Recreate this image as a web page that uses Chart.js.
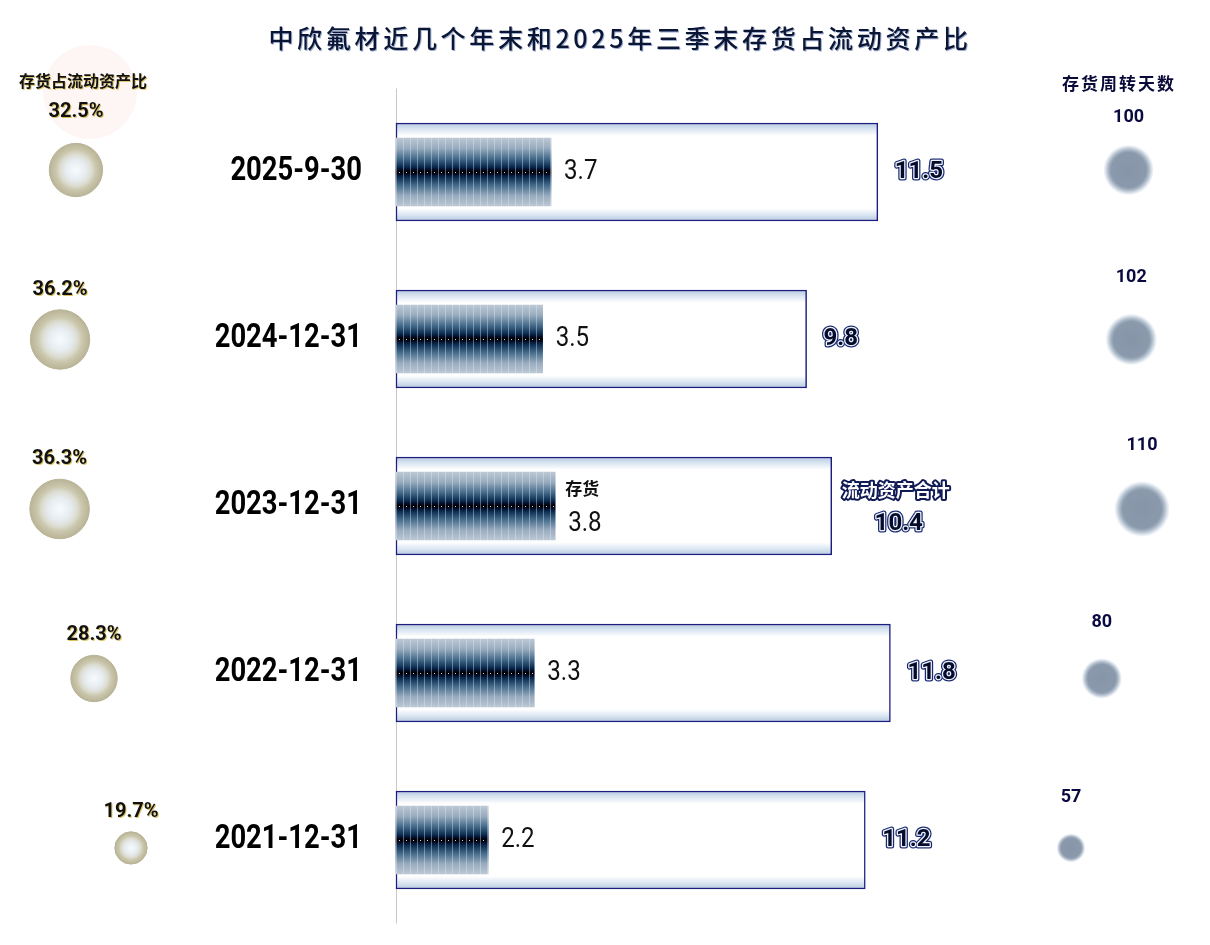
<!DOCTYPE html>
<html><head><meta charset="utf-8">
<script src="https://cdn.jsdelivr.net/npm/chart.js@4.4.1/dist/chart.umd.min.js"></script>
<style>html,body{margin:0;padding:0;background:#fff;} #wrap{position:relative;width:1210px;height:945px;}</style>
</head><body><div id="wrap"><canvas id="c" width="1210" height="945"></canvas></div>
<script>
// ---- data ----
const categories = ['2025-9-30','2024-12-31','2023-12-31','2022-12-31','2021-12-31'];
const inventory = [3.7,3.5,3.8,3.3,2.2];            // 存货
const currentAssets = [11.5,9.8,10.4,11.8,11.2];    // 流动资产合计
const inventoryRatio = [32.5,36.2,36.3,28.3,19.7];  // 存货占流动资产比 (%)
const turnoverDays = [100,102,110,80,57];           // 存货周转天数
const titleText = '中欣氟材近几个年末和2025年三季末存货占流动资产比';
const ratioHeader = '存货占流动资产比';
const daysHeader = '存货周转天数';
const inventoryName = '存货';
const assetsName = '流动资产合计';
const legendRow = 2;

const NUM = "Roboto,'Liberation Sans',sans-serif";
const CJK = "'Noto Sans CJK SC','Noto Sans',sans-serif";

const fin = (...a) => a.every(Number.isFinite);

function invFill(c){
  const chart = c.chart, i = c.dataIndex;
  if (i === undefined || !chart.scales.y || !chart.scales.x) return '#0a2a50';
  const h = 68, yc = chart.scales.y.getPixelForValue(i);
  const x0 = chart.scales.x.getPixelForValue(0);
  if (!fin(yc, x0)) return '#0a2a50';
  const top = Math.round(yc - h/2);
  const tile = document.createElement('canvas'); tile.width = 7; tile.height = h;
  const t = tile.getContext('2d');
  const g = t.createLinearGradient(0,0,0,h);
  g.addColorStop(0,'#bcc8d4'); g.addColorStop(0.15,'#98abbe'); g.addColorStop(0.3,'#466c8b');
  g.addColorStop(0.42,'#0b2d52'); g.addColorStop(0.47,'#020a22'); g.addColorStop(0.5,'#000000');
  g.addColorStop(0.53,'#020a22'); g.addColorStop(0.58,'#0b2d52'); g.addColorStop(0.7,'#466c8b');
  g.addColorStop(0.85,'#98abbe'); g.addColorStop(1,'#bcc8d4');
  t.fillStyle = g; t.fillRect(0,0,7,h);
  t.fillStyle = 'rgba(225,235,245,0.4)'; t.fillRect(0,0,1,h);
  t.fillStyle = '#c9d6e2'; t.fillRect(3, Math.floor(h/2), 1, 1);
  const p = chart.ctx.createPattern(tile,'repeat');
  p.setTransform(new DOMMatrix([1,0,0,1,x0,top]));
  return p;
}
function totFill(c){
  const chart = c.chart, i = c.dataIndex;
  if (i === undefined || !chart.scales.y) return '#fff';
  const h = 98, yc = chart.scales.y.getPixelForValue(i);
  if (!fin(yc)) return '#fff';
  const top = yc - h/2;
  const g = chart.ctx.createLinearGradient(0,top,0,top+h);
  g.addColorStop(0,'#b6c9de'); g.addColorStop(0.06,'#d9e5f1'); g.addColorStop(0.13,'#ffffff');
  g.addColorStop(0.87,'#ffffff'); g.addColorStop(0.94,'#d9e5f1'); g.addColorStop(1,'#b6c9de');
  return g;
}
function leftFill(c){
  const chart = c.chart, i = c.dataIndex;
  if (i === undefined || !chart.scales.xl || !chart.scales.yb) return '#ddd';
  const x = chart.scales.xl.getPixelForValue(inventoryRatio[i]);
  const y = chart.scales.yb.getPixelForValue(i);
  const r = inventoryRatio[i]*0.82;
  if (!fin(x, y, r)) return '#ddd';
  const g = chart.ctx.createRadialGradient(x,y,0,x,y,r);
  g.addColorStop(0,'#f7fbfe'); g.addColorStop(0.38,'#e6ecf0'); g.addColorStop(0.6,'#dcdcd0');
  g.addColorStop(0.75,'#cbc7ad'); g.addColorStop(1,'#b9b496');
  return g;
}
function rightFill(c){
  const chart = c.chart, i = c.dataIndex;
  if (i === undefined || !chart.scales.xr || !chart.scales.yb) return '#8898aa';
  const x = chart.scales.xr.getPixelForValue(turnoverDays[i]);
  const y = chart.scales.yb.getPixelForValue(i);
  const r = turnoverDays[i]*0.25;
  if (!fin(x, y, r)) return '#8898aa';
  const g = chart.ctx.createRadialGradient(x,y,0,x,y,r);
  g.addColorStop(0,'#8696a8'); g.addColorStop(0.7,'#8a9aac'); g.addColorStop(0.8,'#a6b4c3');
  g.addColorStop(0.9,'#d0d9e3'); g.addColorStop(1,'rgba(236,241,247,0.5)');
  return g;
}

function outlined(ctx, text, x, y, fill, inner, outer, w){
  ctx.lineJoin = 'round';
  ctx.strokeStyle = outer; ctx.lineWidth = w; ctx.strokeText(text,x,y);
  if (inner){ ctx.strokeStyle = inner; ctx.lineWidth = w*0.5; ctx.strokeText(text,x,y); }
  ctx.fillStyle = fill; ctx.fillText(text,x,y);
}
function narrowText(ctx, text, x, y, sx){
  ctx.save(); ctx.translate(x, y); ctx.scale(sx, 1); ctx.fillText(text, 0, 0); ctx.restore();
}

const decor = {
  id: 'decor',
  afterLayout(chart){
    // category axis takes no layout width; its label box ends at the bars' zero line
    const y = chart.scales.y;
    const x0 = chart.scales.x.getPixelForValue(0);
    y.left = 0;
    y.right = x0;
    if (!y._narrowWrapped){
      const orig = y.drawLabels;
      y.drawLabels = function(area){
        const ctx = this.ctx, ax = this.right - 34;
        ctx.save(); ctx.translate(ax, 0); ctx.scale(0.83, 1); ctx.translate(-ax, 0);
        orig.call(this, area);
        ctx.restore();
      };
      y._narrowWrapped = true;
    }
  },
  beforeDatasetsDraw(chart){
    const {ctx, scales} = chart;
    ctx.save();
    ctx.fillStyle = 'rgba(250,222,216,0.28)';
    ctx.beginPath(); ctx.arc(90, 92, 47, 0, Math.PI*2); ctx.fill();
    const x0 = Math.round(scales.x.getPixelForValue(0)) + 0.5;
    ctx.strokeStyle = '#c8c8c8'; ctx.lineWidth = 1;
    ctx.beginPath();
    ctx.moveTo(x0, scales.y.getPixelForValue(-0.5));
    ctx.lineTo(x0, scales.y.getPixelForValue(categories.length - 0.5));
    ctx.stroke();
    ctx.restore();
  },
  afterDatasetsDraw(chart){
    const ctx = chart.ctx;
    const inv = chart.getDatasetMeta(0).data, tot = chart.getDatasetMeta(1).data;
    const lb = chart.getDatasetMeta(2).data, rb = chart.getDatasetMeta(3).data;
    ctx.save();
    ctx.textBaseline = 'middle';
    inv.forEach((el,i) => {
      const v = inventory[i].toFixed(1);
      ctx.textAlign = 'left'; ctx.fillStyle = '#111';
      if (i === legendRow){
        ctx.font = `bold 17px ${CJK}`;
        ctx.fillText(inventoryName, el.x + 10, el.y - 17);
        ctx.font = `28px ${NUM}`;
        narrowText(ctx, v, el.x + 13, el.y + 18, 0.86);
      } else {
        ctx.font = `28px ${NUM}`;
        narrowText(ctx, v, el.x + 13, el.y, 0.86);
      }
    });
    tot.forEach((el,i) => {
      const v = currentAssets[i].toFixed(1);
      if (i === legendRow){
        ctx.textAlign = 'center';
        ctx.font = `bold 18px ${CJK}`;
        outlined(ctx, assetsName, el.x + 64, el.y - 16, '#ffffff', null, '#101a55', 4);
        ctx.font = `bold 24px ${NUM}`;
        outlined(ctx, v, el.x + 67, el.y + 18, '#070b2a', '#eef4ff', '#1a2a70', 5);
      } else {
        ctx.textAlign = 'left';
        ctx.font = `bold 24px ${NUM}`;
        outlined(ctx, v, el.x + 17, el.y, '#070b2a', '#eef4ff', '#1a2a70', 5);
      }
    });
    ctx.textAlign = 'center';
    ctx.font = `bold 20px ${NUM}`;
    lb.forEach((el,i) => {
      const r = inventoryRatio[i]*0.82;
      const off = i === 0 ? 31 : 20;
      const s = inventoryRatio[i].toFixed(1) + '%';
      ctx.fillStyle = 'rgba(210,180,60,0.8)';
      ctx.fillText(s, el.x + 1, el.y - r - off + 1);
      ctx.fillStyle = '#111';
      ctx.fillText(s, el.x, el.y - r - off);
    });
    ctx.font = `bold 18px ${NUM}`;
    rb.forEach((el,i) => {
      const r = turnoverDays[i]*0.25;
      const off = i === 0 ? 28 : 36;
      ctx.fillStyle = '#0a0a40';
      ctx.fillText(String(turnoverDays[i]), el.x, el.y - r - off);
    });
    ctx.font = `bold 16px ${CJK}`;
    ctx.fillStyle = 'rgba(210,180,60,0.7)';
    ctx.fillText(ratioHeader, 84, 82);
    ctx.fillStyle = '#111';
    ctx.fillText(ratioHeader, 83, 81);
    ctx.font = `bold 17px ${CJK}`; ctx.letterSpacing = '2px';
    ctx.fillStyle = '#0a0a3a';
    ctx.fillText(daysHeader, 1119, 84);
    ctx.restore();
  },
  afterDraw(chart){
    const ctx = chart.ctx;
    ctx.save();
    ctx.textAlign = 'center'; ctx.textBaseline = 'middle';
    ctx.font = `500 25px ${CJK}`; ctx.letterSpacing = '3.7px';
    ctx.fillStyle = 'rgba(60,90,160,0.5)';
    ctx.fillText(titleText, 621, 39);
    ctx.fillStyle = '#0b1634';
    ctx.fillText(titleText, 620, 38);
    ctx.restore();
  }
};

new Chart(document.getElementById('c'), {
  type: 'bar',
  data: {
    labels: categories,
    datasets: [
      {type:'bar', label: inventoryName, data: inventory, xAxisID:'x', yAxisID:'y', grouped:false,
       barThickness:68, backgroundColor: invFill, borderWidth:0, clip:false, order:0},
      {type:'bar', label: assetsName, data: currentAssets, xAxisID:'x', yAxisID:'y', grouped:false,
       barThickness:98, backgroundColor: totFill, borderColor:'#1d1d80', borderWidth:1.5, borderSkipped:false, clip:false, order:1},
      {type:'bubble', label: ratioHeader, data: inventoryRatio.map((v,i)=>({x:v, y:i})), xAxisID:'xl', yAxisID:'yb',
       radius: c => inventoryRatio[c.dataIndex]*0.82, backgroundColor: leftFill, borderColor:'#b8b396', borderWidth:1, clip:false, order:2},
      {type:'bubble', label: daysHeader, data: turnoverDays.map((v,i)=>({x:v, y:i})), xAxisID:'xr', yAxisID:'yb',
       radius: c => turnoverDays[c.dataIndex]*0.25, backgroundColor: rightFill, borderWidth:0, clip:false, order:3}
    ]
  },
  options: {
    indexAxis: 'y',
    responsive: false,
    devicePixelRatio: 1,
    animation: false,
    events: [],
    // chart area: x 32..1178, y 172..840 (first..last category centre)
    layout: { padding: { top: 172, right: 32, bottom: 105, left: 32 } },
    plugins: { legend: {display:false}, title: {display:false}, tooltip: {enabled:false} },
    scales: {
      y: { type:'category', position:'left', offset:false,
           grid:{display:false, drawTicks:false}, border:{display:false},
           ticks:{ padding:34, color:'#000', font:{family:NUM, size:33, weight:'bold'} },
           afterFit(s){ s.width = 0; } },
      x: { type:'linear', display:false, min:-8.687, max:18.664, bounds:'data', offset:false },
      xl:{ type:'linear', display:false, reverse:true, min:-223.79, max:42.72, bounds:'data', offset:false },
      xr:{ type:'linear', display:false, min:-718.36, max:136.86, bounds:'data', offset:false },
      yb:{ type:'linear', display:false, reverse:true, min:0.0118, max:3.953, bounds:'data', offset:false }
    }
  },
  plugins: [decor]
});
</script>
</body></html>
